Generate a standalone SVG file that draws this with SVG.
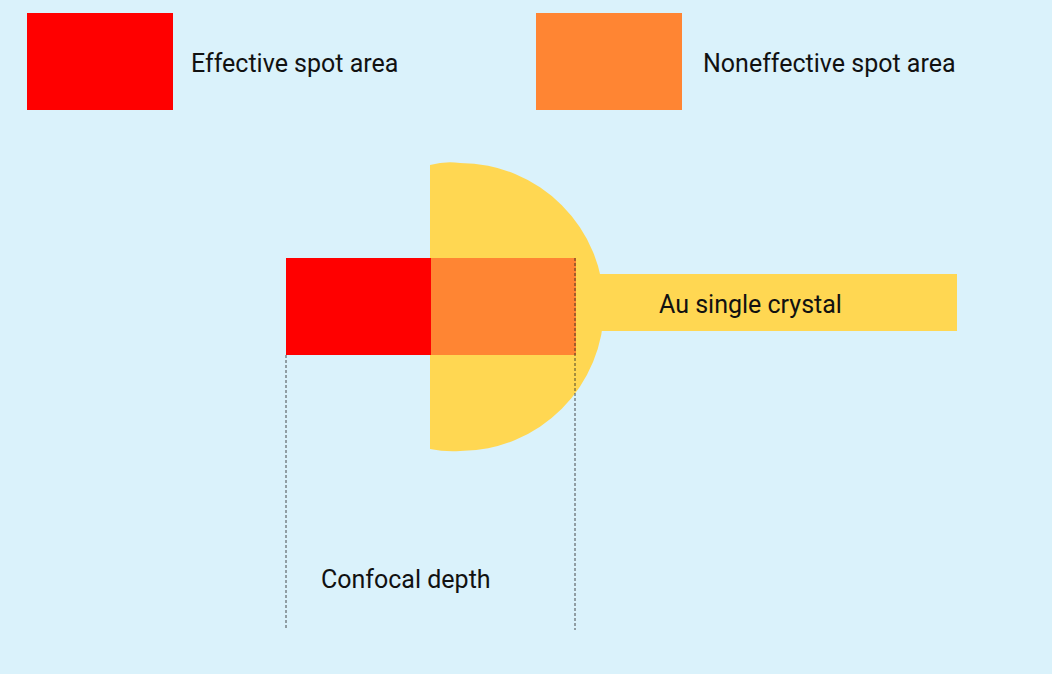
<svg xmlns="http://www.w3.org/2000/svg" width="1052" height="674" viewBox="0 0 1052 674">
<style>
text{font-family:"Roboto","Liberation Sans",sans-serif;font-size:25px;fill:#111}
.dash{stroke:#222;stroke-width:0.8;stroke-dasharray:3,2;fill:none}
</style>
<rect x="0" y="0" width="1052" height="674" fill="#daf2fb"/>
<g id="legend-effective"><rect x="27" y="13" width="146" height="97" fill="#ff0000"/><text x="191" y="72">Effective spot area</text></g>
<g id="legend-noneffective"><rect x="536" y="13" width="146" height="97" fill="#ff8533"/><text x="703" y="72">Noneffective spot area</text></g>
<g id="crystal">
<path d="M430,165 Q445,161 460,163 A144,144 0 0 1 460,451 Q445,452 430,449 Z" fill="#ffd752"/>
<rect x="590" y="274" width="367" height="57" fill="#ffd752"/>
<text x="659" y="313">Au single crystal</text>
</g>
<g id="spot">
<rect x="286" y="258" width="145" height="97" fill="#ff0000"/>
<rect x="431" y="258" width="145" height="97" fill="#ff8533"/>
</g>
<g id="connectors">
<line class="dash" x1="286" y1="355" x2="286" y2="630"/>
<line class="dash" x1="575" y1="258" x2="575" y2="630"/>
</g>
<text x="321" y="588">Confocal depth</text>
</svg>
